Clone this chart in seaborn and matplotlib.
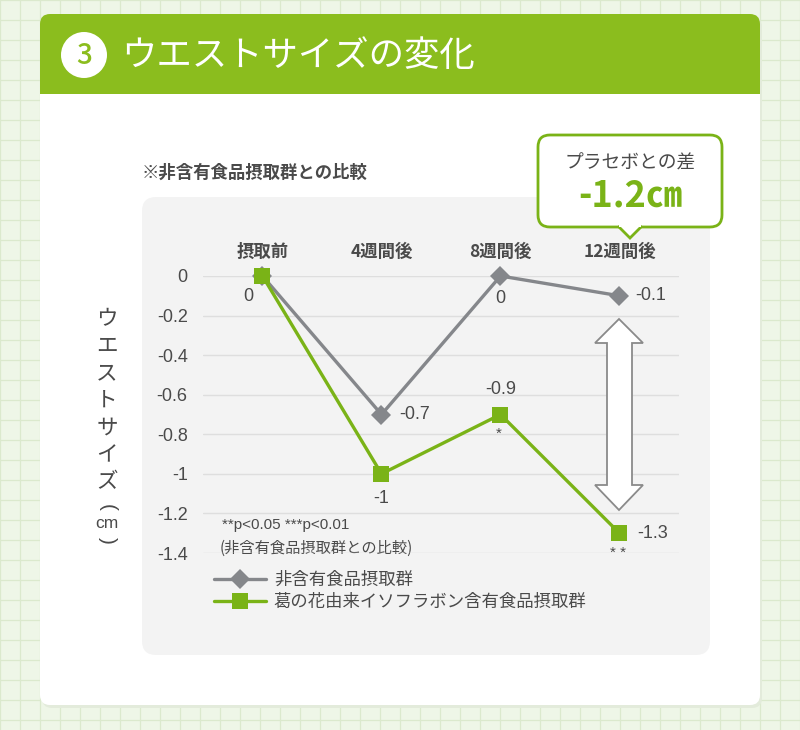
import pandas as pd
import matplotlib
matplotlib.use("Agg")
import matplotlib.pyplot as plt
from matplotlib.patches import FancyBboxPatch, Rectangle, Circle, Polygon
from matplotlib.lines import Line2D
import seaborn as sns

# ---- data ----
weeks = ["摂取前", "4週間後", "8週間後", "12週間後"]
control_vals = [0, -0.7, 0, -0.1]
kudzu_vals = [0, -1.0, -0.7, -1.3]
control_labels = ["0", "-0.7", "0", "-0.1"]
kudzu_labels = ["", "-1", "-0.9", "-1.3"]
kudzu_marks = ["", "", "*", "**"]
group_names = ["非含有食品摂取群", "葛の花由来イソフラボン含有食品摂取群"]
y_ticks = [0, -0.2, -0.4, -0.6, -0.8, -1, -1.2, -1.4]

df = pd.DataFrame({
    "week": weeks * 2,
    "value": control_vals + kudzu_vals,
    "group": [group_names[0]] * 4 + [group_names[1]] * 4,
})

GREEN = "#8bbd1e"
LINE_GREEN = "#7ab317"
GRAY = "#85878b"
TXT = "#4a4a4a"

sns.set_style("white")
plt.rcParams['font.family'] = ['Noto Sans CJK JP', 'DejaVu Sans']
NUM = ['Liberation Sans', 'Noto Sans CJK JP']

fig = plt.figure(figsize=(8, 7.3), dpi=100)

# background layer in pixel coordinates
bg = fig.add_axes([0, 0, 1, 1], zorder=-5)
bg.set_xlim(0, 800)
bg.set_ylim(730, 0)
bg.axis("off")
bg.add_patch(Rectangle((0, 0), 800, 730, color="#eef6e7", zorder=0))
for v in range(0, 801, 20):
    bg.plot([v, v], [0, 730], color="#dbe9cd", lw=0.9, zorder=1)
for h in range(0, 731, 20):
    bg.plot([0, 800], [h, h], color="#dbe9cd", lw=0.9, zorder=1)

# card
bg.add_patch(FancyBboxPatch((42, 17), 720, 691, boxstyle="round,pad=0,rounding_size=10",
                            fc="#e3ebdb", ec="none", zorder=2))
bg.add_patch(FancyBboxPatch((40, 14), 720, 691, boxstyle="round,pad=0,rounding_size=10",
                            fc="white", ec="none", zorder=3))
bg.add_patch(FancyBboxPatch((40, 14), 720, 80, boxstyle="round,pad=0,rounding_size=10",
                            fc=GREEN, ec="none", zorder=4))
bg.add_patch(Rectangle((40, 60), 720, 34, fc=GREEN, ec="none", zorder=4))
bg.add_patch(Circle((84, 55), 23, fc="white", ec="none", zorder=5))
bg.text(84, 56, "3", color=GREEN, fontsize=20, fontweight="medium", ha="center", va="center", zorder=6)
bg.text(121, 56, "ウエストサイズの変化", color="white", fontsize=25.5,
        ha="left", va="center", zorder=6)

# inner panel
bg.add_patch(FancyBboxPatch((142, 197), 568, 458, boxstyle="round,pad=0,rounding_size=14",
                            fc="#f3f3f3", ec="none", zorder=5))
bg.text(142, 173, "※非含有食品摂取群との比較", color=TXT, fontsize=12.5,
        fontweight="bold", ha="left", va="center", zorder=6)

# vertical y label
ylab = ["ウ", "エ", "ス", "ト", "サ", "イ", "ズ"]
for i, ch in enumerate(ylab):
    bg.text(107, 319 + 27.2 * i, ch, color=TXT, fontsize=15.5, ha="center", va="center", zorder=6)
bg.text(107, 507, "(", color=TXT, fontsize=15, rotation=-90, ha="center", va="center", zorder=6,
        family=NUM)
bg.text(107, 523, "cm", color=TXT, fontsize=12.5, ha="center", va="center", zorder=6,
        family=NUM)
bg.text(107, 540, ")", color=TXT, fontsize=15, rotation=-90, ha="center", va="center", zorder=6,
        family=NUM)

# main plot axes
ax = fig.add_axes([203 / 800, 1 - 553 / 730, 476 / 800, 277 / 730])
ax.set_facecolor("none")
sns.lineplot(data=df, x="week", y="value", hue="group", style="group",
             palette={group_names[0]: GRAY, group_names[1]: LINE_GREEN},
             markers={group_names[0]: "D", group_names[1]: "s"},
             dashes=False, linewidth=2.4, markersize=11, markeredgewidth=0,
             legend=False, ax=ax, sort=False)
for ln in ax.lines:
    ln.set_clip_on(False)
    if ln.get_marker() == "D":
        ln.set_markersize(10)

ax.set_xlim(-0.5, 3.5)
ax.set_ylim(-1.4, 0)
ax.set_yticks(y_ticks)
ax.set_yticklabels([f"{t:g}" for t in y_ticks], family=NUM, fontsize=13, color=TXT)
ax.xaxis.tick_top()
ax.set_xticks(range(len(weeks)))
ax.set_xticklabels(weeks, fontsize=12.5, fontweight="bold", color=TXT)
ax.tick_params(axis="x", length=0, pad=11)
ax.tick_params(axis="y", length=0, pad=11)
ax.grid(axis="y", color="#dedede", lw=1)
ax.set_axisbelow(True)
for s in ax.spines.values():
    s.set_visible(False)
ax.set_xlabel("")
ax.set_ylabel("")

# data labels (offsets in points)
ctrl_off = [((-10, -14.5), "center"), ((13, 0), "left"), ((0, -16), "center"), ((11, 0), "left")]
kudzu_off = [((0, 0), "center"), ((0, -18), "center"), ((0, 18), "center"), ((13, 0), "left")]
for i in range(len(weeks)):
    (dx, dy), ha = ctrl_off[i]
    ax.annotate(control_labels[i], (i, control_vals[i]), xytext=(dx, dy), textcoords="offset points",
                ha=ha, va="center", fontsize=13, color=TXT, family=NUM, annotation_clip=False)
    if kudzu_labels[i]:
        (dx, dy), ha = kudzu_off[i]
        ax.annotate(kudzu_labels[i], (i, kudzu_vals[i]), xytext=(dx, dy), textcoords="offset points",
                    ha=ha, va="center", fontsize=13, color=TXT, family=NUM, annotation_clip=False)
    if kudzu_marks[i]:
        ax.annotate(" ".join(kudzu_marks[i]), (i, kudzu_vals[i]), xytext=(-1, -14), textcoords="offset points",
                    ha="center", va="center", fontsize=11, color=TXT, family=NUM, annotation_clip=False)

# significance note
bg.text(222, 525, "**p<0.05 ***p<0.01", color=TXT, fontsize=11, family=NUM,
        ha="left", va="center", zorder=6)
bg.text(220, 548, "(非含有食品摂取群との比較)", color=TXT, fontsize=11,
        ha="left", va="center", zorder=6)

# legend
handles = [Line2D([], [], color=GRAY, lw=2.4, marker="D", markersize=10, markeredgewidth=0),
           Line2D([], [], color=LINE_GREEN, lw=2.4, marker="s", markersize=11, markeredgewidth=0)]
leg = ax.legend(handles, group_names, loc="upper left", bbox_to_anchor=(214, 571),
                bbox_transform=bg.transData, frameon=False, fontsize=12.5,
                handlelength=3.0, handletextpad=0.45, labelspacing=0.25, numpoints=1,
                borderaxespad=0, borderpad=0)
for t in leg.get_texts():
    t.set_color(TXT)

# double arrow between groups at 12 weeks
arrow_pts = [(619, 319), (643, 343), (632, 343), (632, 485), (643, 485), (619, 510),
             (595, 485), (607, 485), (607, 343), (595, 343)]
fig.add_artist(Polygon(arrow_pts, closed=True, fc="white", ec="#8a8a8a", lw=1.3,
                       transform=bg.transData, zorder=3))

# callout box
fig.add_artist(FancyBboxPatch((538, 135), 184, 92, boxstyle="round,pad=0,rounding_size=12",
                              fc="white", ec=LINE_GREEN, lw=2, transform=bg.transData, zorder=3))
fig.add_artist(Polygon([(618, 226), (630, 238), (642, 226)], closed=False, fc="white",
                       ec=LINE_GREEN, lw=2, transform=bg.transData, zorder=4))
fig.add_artist(Rectangle((619, 224), 22, 3, fc="white", ec="none", transform=bg.transData, zorder=4))
fig.text(630 / 800, 1 - 163 / 730, "プラセボとの差", color=TXT, fontsize=13.5,
         ha="center", va="center", zorder=5)
fig.text(630 / 800, 1 - 196 / 730, "-1.2㎝", color="#7ab317", fontsize=26,
         fontweight="bold", ha="center", va="center", zorder=5)

fig.savefig("out.png", dpi=100)
